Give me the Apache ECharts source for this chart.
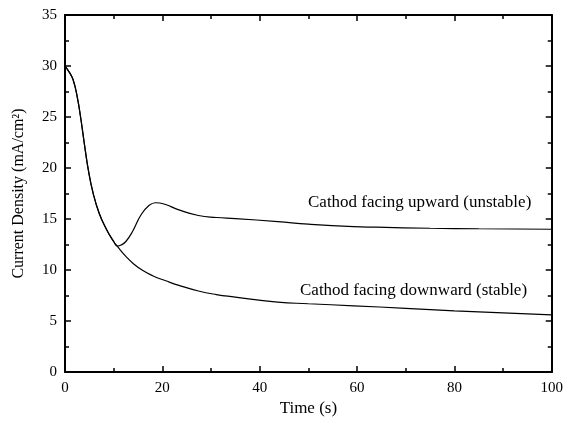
<!DOCTYPE html>
<html>
<head>
<meta charset="utf-8">
<script src="https://cdn.jsdelivr.net/npm/echarts@6/dist/echarts.min.js"></script>
<style>
  html, body { margin: 0; padding: 0; background: #fff; }
  #chart { width: 566px; height: 422px; }
</style>
</head>
<body>
<div id="chart"></div>
<script>
// stable curve (cathode facing downward)
var time_down = [0, 1, 1.7, 2.5, 3.2, 4, 4.8, 5.8, 7, 8.5, 10, 10.8, 12.5, 14, 16, 18, 20.7, 23.4, 27.4, 31.1, 35, 39, 43.7, 50, 59.3, 70, 80, 90, 100];
var cd_down = [30, 29.3, 28.6, 27.0, 25.0, 22.3, 19.8, 17.5, 15.6, 14.0, 12.8, 12.3, 11.35, 10.65, 9.95, 9.45, 8.95, 8.5, 7.95, 7.6, 7.35, 7.1, 6.85, 6.7, 6.5, 6.25, 6.0, 5.8, 5.6];

// unstable curve (cathode facing upward)
var time_up = [0, 1, 1.7, 2.5, 3.2, 4, 4.8, 5.8, 7, 8.5, 10, 10.8, 11.5, 12.5, 13.9, 15.6, 17.3, 18.6, 20.5, 23.4, 27.4, 31.1, 35, 43.7, 50, 59.3, 64, 75, 85, 100];
var cd_up = [30, 29.3, 28.6, 27.0, 25.0, 22.3, 19.8, 17.5, 15.6, 14.0, 12.8, 12.35, 12.45, 12.8, 13.8, 15.4, 16.35, 16.6, 16.45, 15.9, 15.35, 15.15, 15.05, 14.75, 14.5, 14.25, 14.2, 14.1, 14.05, 14.0];

var labels = ['Cathod facing upward (unstable)', 'Cathod facing downward (stable)'];

function pairs(xs, ys) {
    return xs.map(function (x, i) { return [x, ys[i]]; });
}

var font = 'Liberation Serif';
var chart = echarts.init(document.getElementById('chart'));

var tickStyle = { inside: true, length: 6, lineStyle: { color: '#000', width: 1.5 } };
var minorStyle = { show: true, splitNumber: 2, length: 4, lineStyle: { color: '#000', width: 1.5 } };
var lineStyle = { show: true, onZero: false, lineStyle: { color: '#000', width: 2 } };

var option = {
    animation: false,
    backgroundColor: '#fff',
    grid: { left: 65, right: 11, top: 15, bottom: 47 },
    xAxis: [
        {
            type: 'value', min: 0, max: 100, interval: 20,
            name: 'Time (s)', nameLocation: 'middle', nameGap: 26,
            nameTextStyle: { fontFamily: font, fontSize: 17, color: '#000' },
            axisLine: lineStyle, axisTick: tickStyle, minorTick: minorStyle,
            axisLabel: { fontFamily: font, fontSize: 15, color: '#000', margin: 8 },
            splitLine: { show: false }
        },
        {
            type: 'value', min: 0, max: 100, interval: 20, position: 'top',
            axisLine: lineStyle, axisTick: tickStyle, minorTick: minorStyle,
            axisLabel: { show: false }, splitLine: { show: false }
        }
    ],
    yAxis: [
        {
            type: 'value', min: 0, max: 35, interval: 5,
            name: 'Current Density (mA/cm²)', nameLocation: 'middle', nameGap: 38,
            nameTextStyle: { fontFamily: font, fontSize: 16, color: '#000' },
            axisLine: lineStyle, axisTick: tickStyle, minorTick: minorStyle,
            axisLabel: { fontFamily: font, fontSize: 15, color: '#000', margin: 8 },
            splitLine: { show: false }
        },
        {
            type: 'value', min: 0, max: 35, interval: 5, position: 'right',
            axisLine: lineStyle, axisTick: tickStyle, minorTick: minorStyle,
            axisLabel: { show: false }, splitLine: { show: false }
        }
    ],
    series: [
        {
            name: labels[0], type: 'line', data: pairs(time_up, cd_up),
            smooth: 0.5, showSymbol: false,
            lineStyle: { color: '#000', width: 1.2 }
        },
        {
            name: labels[1], type: 'line', data: pairs(time_down, cd_down),
            smooth: 0.5, showSymbol: false,
            lineStyle: { color: '#000', width: 1.2 }
        }
    ],
    graphic: [
        {
            type: 'text', left: 308, top: 194,
            style: { text: labels[0], fontFamily: font, fontSize: 17, fill: '#000' }
        },
        {
            type: 'text', left: 300, top: 282,
            style: { text: labels[1], fontFamily: font, fontSize: 17, fill: '#000' }
        }
    ]
};

chart.setOption(option);
</script>
</body>
</html>
